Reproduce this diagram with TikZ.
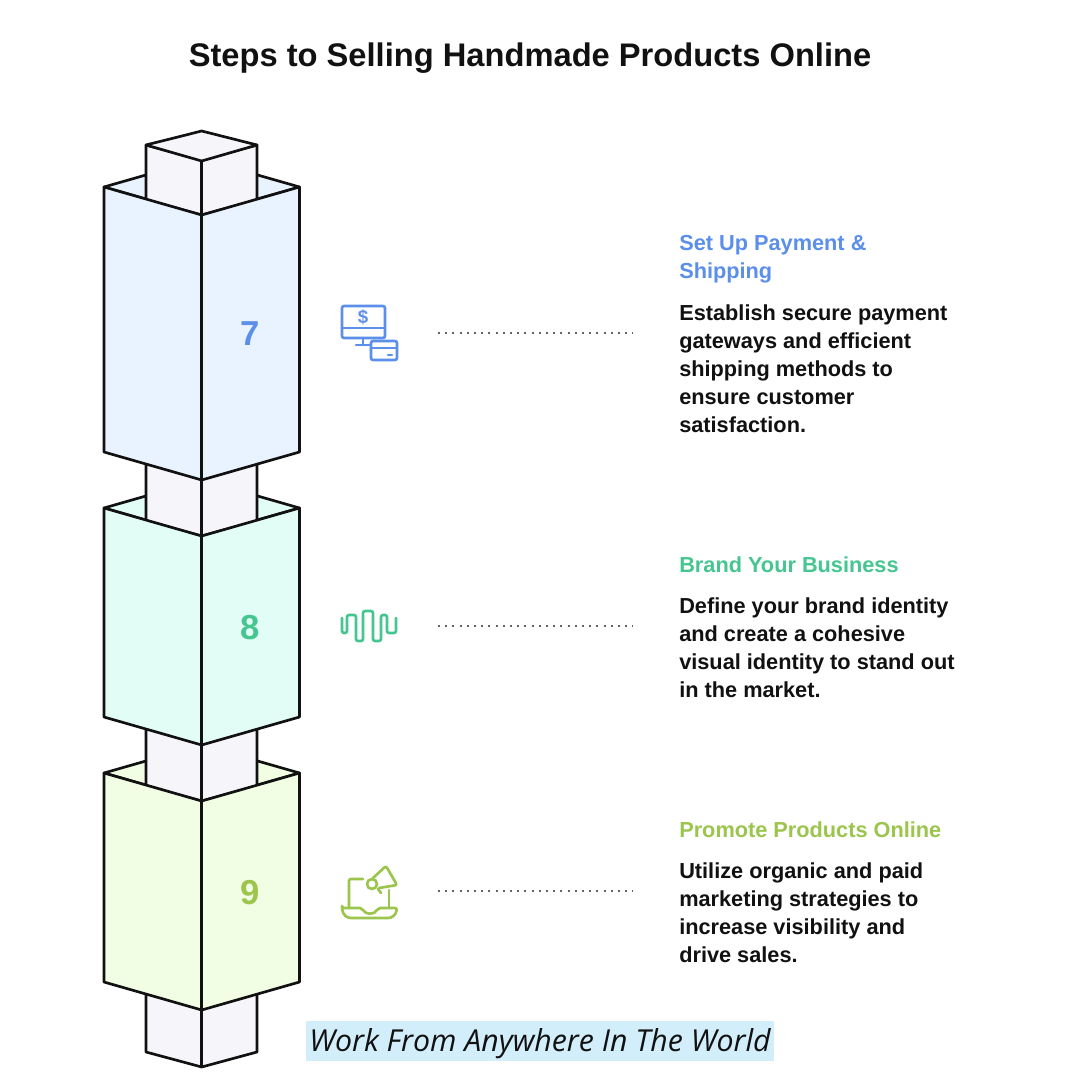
\documentclass[tikz,border=0pt]{standalone}
\usepackage{fontspec}
\setmainfont{Liberation Sans}
\newfontfamily\labelfont{Open Sans}
\definecolor{cblue}{HTML}{5B8FEA}
\definecolor{cgreen}{HTML}{45C690}
\definecolor{clime}{HTML}{9CC54E}
\definecolor{fblue}{HTML}{E9F2FF}
\definecolor{fgreen}{HTML}{E2FDF5}
\definecolor{flime}{HTML}{F1FEE3}
\definecolor{fgrey}{HTML}{F5F5FA}
\definecolor{ink}{HTML}{111111}
\definecolor{band}{HTML}{D3EEFB}
\tikzset{
  edge/.style={draw=ink,line width=2pt,line join=round},
  heading/.style={anchor=north west,inner sep=0pt,align=left,font=\fontsize{16.3}{21}\selectfont\bfseries},
  body/.style={anchor=north west,inner sep=0pt,align=left,text=ink,font=\fontsize{16.3}{21}\selectfont\bfseries},
  numeral/.style={inner sep=0pt,font=\fontsize{26}{30}\selectfont\bfseries},
  leader/.style={draw=ink!65,line width=1.5pt,dash pattern=on 1.5pt off 3.9pt},
  iconline/.style={line width=2pt,line cap=round,line join=round,rounded corners=1.5pt}
}
\newcommand{\boxback}[2]{\path[edge,fill=#2] (104,#1) -- (201.7,#1-28) -- (299.5,#1) -- (201.7,#1+28) -- cycle;}
\newcommand{\boxfront}[3]{\path[edge,fill=#3] (104,#1) -- (201.7,#1+28) -- (299.5,#1) -- (299.5,#2) -- (201.7,#2+28) -- (104,#2) -- cycle;
  \draw[edge] (201.7,#1+28) -- (201.7,#2+28);}
\newcommand{\shaft}[2]{\path[edge,fill=fgrey] (146,#1) -- (201.7,#1+15) -- (257,#1) -- (257,#2) -- (201.7,#2+15) -- (146,#2) -- cycle;
  \draw[edge] (201.7,#1+15) -- (201.7,#2+15);}
\begin{document}
\begin{tikzpicture}[x=0.75pt,y=-0.75pt]
\useasboundingbox (0,0) rectangle (1080,1080);
\fill[white] (0,0) rectangle (1080,1080);

\node[inner sep=0pt,font=\fontsize{24.5}{30}\selectfont\bfseries,text=ink] (title) at (530,58) {Steps to Selling Handmade Products Online};

\boxback{187}{fblue}
\boxback{508}{fgreen}
\boxback{773}{flime}
\shaft{145}{200}
\path[edge,fill=fgrey] (146,145) -- (201.7,131) -- (257,145) -- (201.7,161) -- cycle;
\shaft{450}{521}
\shaft{715}{786}
\shaft{980}{1052}
\boxfront{187}{452}{fblue}
\boxfront{508}{717}{fgreen}
\boxfront{773}{982}{flime}

\node[numeral,text=cblue] (n7) at (250,334) {7};
\node[numeral,text=cgreen] (n8) at (250,628) {8};
\node[numeral,text=clime] (n9) at (250,893) {9};

\begin{scope}[cblue,iconline]
\draw (342,306) rectangle (385,338);
\draw (342,328) -- (385,328);
\draw (363,338) -- (363,345) (356,345) -- (370,345);
\draw (371,341) rectangle (397,360);
\draw (371,348) -- (397,348);
\draw (388,355) -- (392,355);
\end{scope}
\node[inner sep=0pt,text=cblue,font=\fontsize{14}{14}\selectfont\bfseries] (dollar) at (363,317) {\$};

\draw[cgreen,iconline] (342,618) -- (342,633) -- (347,633) -- (347,615) -- (356,615) -- (356,641) -- (363,641) -- (363,611) -- (373,611) -- (373,641) -- (381,641) -- (381,615) -- (387,615) -- (387,633) -- (396,633) -- (396,618);

\begin{scope}[clime,iconline]
\draw (363,879) -- (349,879) -- (349,908);
\draw (389,890) -- (389,908);
\draw (342,908) -- (362,908) .. controls (365,915) and (375,915) .. (378,908) -- (397,908) .. controls (396,915) and (392,918) .. (386,918) -- (353,918) .. controls (347,918) and (343,915) .. (342,908) -- cycle;
\draw (373,878) -- (386,866) -- (397,885) -- (379,888);
\draw (372,884) circle[radius=5];
\draw (378,889) -- (381,893);
\end{scope}

\coordinate (l7a) at (438,333); \coordinate (l7b) at (633,333);
\coordinate (l8a) at (438,626); \coordinate (l8b) at (633,626);
\coordinate (l9a) at (438,891); \coordinate (l9b) at (633,891);
\draw[leader] (l7a) -- (l7b);
\draw[leader] (l8a) -- (l8b);
\draw[leader] (l9a) -- (l9b);

\node[heading,text=cblue] (h7) at (679,235) {Set Up Payment \&\\Shipping};
\node[body] (b7) at (679,304) {Establish secure payment\\gateways and efficient\\shipping methods to\\ensure customer\\satisfaction.};
\node[heading,text=cgreen] (h8) at (679,556) {Brand Your Business};
\node[body] (b8) at (679,597) {Define your brand identity\\and create a cohesive\\visual identity to stand out\\in the market.};
\node[heading,text=clime] (h9) at (679,821) {Promote Products Online};
\node[body] (b9) at (679,862) {Utilize organic and paid\\marketing strategies to\\increase visibility and\\drive sales.};

\node[fill=band,minimum width=468*0.75pt,minimum height=40*0.75pt,inner sep=0pt] (band) at (540,1041) {};
\node[inner sep=0pt,text=ink,font=\labelfont\itshape\fontsize{22.7}{26}\selectfont] (bandtext) at (540,1044) {Work From Anywhere In The World};
\end{tikzpicture}
\end{document}
